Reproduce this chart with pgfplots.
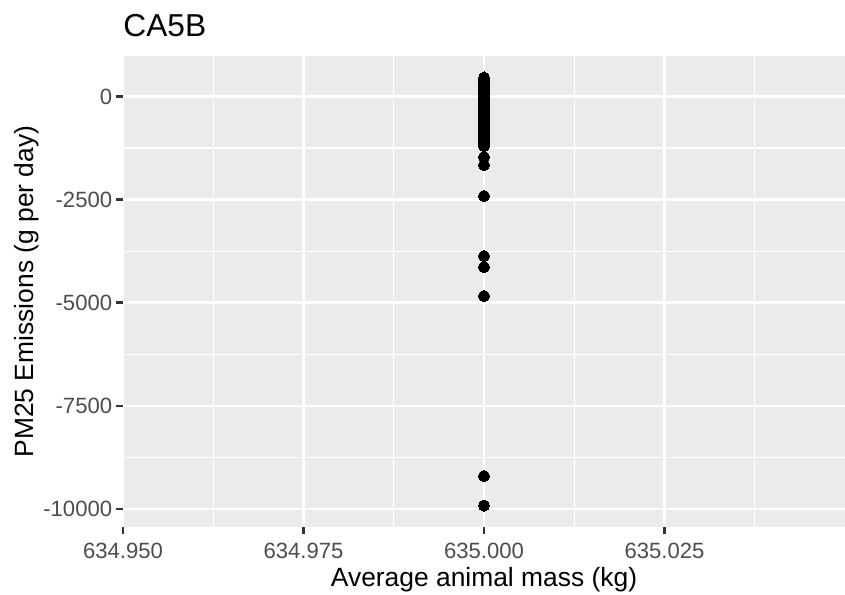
\documentclass[border=0pt]{standalone}
\usepackage{fontspec}
\setmainfont{Liberation Sans}
\usepackage{pgfplots}
\pgfplotsset{compat=1.18}
\usepackage{pgfplotstable}
\definecolor{panelbg}{HTML}{EBEBEB}
\definecolor{ticktxt}{HTML}{4D4D4D}
\definecolor{tickln}{HTML}{333333}
\pgfplotstableread{
x y
635 463
635 420
635 380
635 340
635 300
635 260
635 220
635 180
635 150
635 120
635 90
635 60
635 30
635 10
635 0
635 -20
635 -50
635 -80
635 -110
635 -150
635 -190
635 -230
635 -270
635 -310
635 -350
635 -400
635 -450
635 -500
635 -550
635 -600
635 -650
635 -700
635 -750
635 -800
635 -850
635 -900
635 -950
635 -1000
635 -1050
635 -1100
635 -1150
635 -1200
635 -1467
635 -1661
635 -2412
635 -3867
635 -4133
635 -4836
635 -9200
635 -9917
}\datatable
\begin{document}
\begin{tikzpicture}
\useasboundingbox (-51.25pt,-27.92pt) rectangle (300.83pt,219.58pt);
\begin{axis}[
  at={(0pt,0pt)}, anchor=south west,
  scale only axis, width=300.83pt, height=196.25pt,
  xmin=634.95, xmax=635.05, ymin=-10436, ymax=982,
  scaled x ticks=false, scaled y ticks=false,
  axis background/.style={fill=panelbg},
  axis line style={draw=none},
  xtick={634.95,634.975,635,635.025},
  xticklabels={634.950,634.975,635.000,635.025},
  minor xtick={634.9625,634.9875,635.0125,635.0375},
  ytick={-10000,-7500,-5000,-2500,0},
  yticklabels={{-10000},{-7500},{-5000},{-2500},{0}},
  minor ytick={-8750,-6250,-3750,-1250},
  grid=both,
  major grid style={white, line width=1.07pt},
  minor grid style={white, line width=0.53pt},
  tick align=outside, xtick pos=lower, ytick pos=left,
  major tick length=2.75pt, minor tick length=0pt,
  tick style={tickln, line width=1.07pt},
  ticklabel style={font=\fontsize{9.2}{10}\selectfont, text=ticktxt},
  xticklabel style={inner sep=0pt, anchor=north, yshift=-3.75pt},
  yticklabel style={inner sep=0pt, anchor=east, xshift=-1.6pt},
  clip=false,
]
\addplot[only marks, mark=*, mark size=2.3pt, mark options={fill=black, draw=black, line width=0pt}] table[x=x,y=y] {\datatable};
\end{axis}
\node[anchor=base west, inner sep=0pt, font=\fontsize{13.2}{15}\selectfont] at (0pt,204.58pt) {CA5B};
\node[anchor=base, inner sep=0pt, font=\fontsize{11}{13}\selectfont] at (150.42pt,-24.6pt) {Average animal mass (kg)};
\node[rotate=90, anchor=base, inner sep=0pt, font=\fontsize{11}{13}\selectfont] at (-37.1pt,98.12pt) {PM25 Emissions (g per day)};
\end{tikzpicture}
\end{document}
